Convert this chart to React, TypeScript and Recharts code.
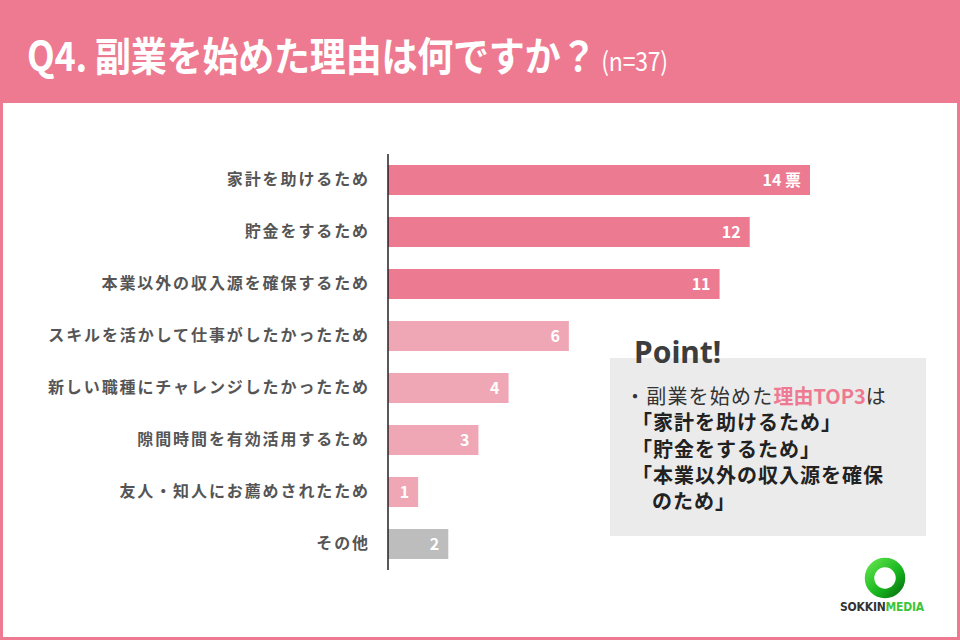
import { Bar, BarChart, Cell, LabelList, XAxis, YAxis } from "recharts";

const reasons = [
  "家計を助けるため",
  "貯金をするため",
  "本業以外の収入源を確保するため",
  "スキルを活かして仕事がしたかったため",
  "新しい職種にチャレンジしたかったため",
  "隙間時間を有効活用するため",
  "友人・知人にお薦めされたため",
  "その他",
];
const votes = [14, 12, 11, 6, 4, 3, 1, 2];
const barColors = ["#ec7a90", "#ec7a90", "#ec7a90", "#f0a7b5", "#f0a7b5", "#f0a7b5", "#f0a7b5", "#bdbdbd"];
const pointLines = ["「家計を助けるため」", "「貯金をするため」", "「本業以外の収入源を確保"];

const PINK = "#ee7a91";
const JP = '"Noto Sans CJK JP", "Noto Sans", sans-serif';

const data = reasons.map((name, i) => ({
  name,
  votes: votes[i],
  text: i === 0 ? `${votes[i]} 票` : String(votes[i]),
}));

function ReasonTick({ x, y, payload }: any) {
  return (
    <text
      x={x}
      y={y}
      dy={5}
      textAnchor="end"
      fill="#555"
      fontSize={16}
      fontWeight={700}
      letterSpacing={1.9}
      fontFamily={JP}
    >
      {payload.value}
    </text>
  );
}

function Logo() {
  return (
    <svg width={100} height={70} style={{ position: "absolute", left: 829, top: 552 }}>
      <defs>
        <linearGradient id="ring" x1="0" y1="0" x2="1" y2="1">
          <stop offset="0%" stopColor="#5be04a" />
          <stop offset="60%" stopColor="#17b51d" />
          <stop offset="100%" stopColor="#0a7a12" />
        </linearGradient>
      </defs>
      <circle cx={53} cy={26} r={15.5} fill="none" stroke="url(#ring)" strokeWidth={9.5} />
      <text x={8} y={59} fontSize={12} fontWeight={900} fontFamily='"Liberation Sans Narrow", "DejaVu Sans Condensed", sans-serif' letterSpacing={-0.2}>
        <tspan fill="#333">SOKKIN</tspan>
        <tspan fill="#3cc43a">MEDIA</tspan>
      </text>
    </svg>
  );
}

export default function App() {
  return (
    <div
      style={{
        position: "absolute",
        left: 0,
        top: 0,
        width: 960,
        height: 640,
        boxSizing: "border-box",
        background: "#fff",
        border: `3px solid ${PINK}`,
        borderTop: "none",
        fontFamily: JP,
        overflow: "hidden",
      }}
    >
      <div style={{ position: "absolute", left: -3, top: 0, width: 960, height: 103, background: PINK }} />
      <div
        style={{
          position: "absolute",
          left: 24,
          top: 33,
          color: "#fff",
          fontWeight: 700,
          fontSize: 36,
          lineHeight: "40px",
          whiteSpace: "nowrap",
          transform: "scaleY(1.12)",
          transformOrigin: "left center",
          letterSpacing: -0.2,
        }}
      >
        Q4. 副業を始めた理由は何ですか？
        <span style={{ fontSize: 23, fontWeight: 400, marginLeft: 5 }}>(n=37)</span>
      </div>

      <div style={{ position: "absolute", left: -3, top: 0 }}>
        <BarChart
          width={960}
          height={640}
          layout="vertical"
          data={data}
          margin={{ top: 154, right: 150, bottom: 70, left: 0 }}
          barCategoryGap={22}
        >
          <XAxis type="number" domain={[0, 14]} hide />
          <YAxis
            type="category"
            dataKey="name"
            width={388}
            tickSize={0}
            tickMargin={18}
            axisLine={{ stroke: "#222", strokeWidth: 1.5 }}
            tickLine={false}
            tick={<ReasonTick />}
            interval={0}
          />
          <Bar dataKey="votes" barSize={30} isAnimationActive={false}>
            {data.map((d, i) => (
              <Cell key={d.name} fill={barColors[i]} />
            ))}
            <LabelList
              dataKey="text"
              position="insideRight"
              offset={9}
              fill="#fff"
              fontSize={16}
              fontWeight={700}
              fontFamily={JP}
            />
          </Bar>
        </BarChart>
      </div>

      <div
        style={{
          position: "absolute",
          left: 607,
          top: 358,
          width: 316,
          height: 178,
          background: "#ebebeb",
        }}
      />
      <div
        style={{
          position: "absolute",
          left: 631,
          top: 334,
          fontFamily: '"Noto Sans", sans-serif',
          fontWeight: 700,
          fontSize: 30,
          lineHeight: "36px",
          color: "#3d3d3d",
        }}
      >
        Point!
      </div>
      <div
        style={{
          position: "absolute",
          left: 622,
          top: 383,
          fontSize: 20,
          lineHeight: "26.3px",
          color: "#222",
          whiteSpace: "nowrap",
          letterSpacing: 1,
        }}
      >
        <div style={{ fontWeight: 400, color: "#333", letterSpacing: 1.2 }}>
          ・副業を始めた<span style={{ color: PINK, fontWeight: 700, letterSpacing: 0 }}>理由TOP3</span>は
        </div>
        {pointLines.map((l) => (
          <div key={l} style={{ fontWeight: 700, marginLeft: 7 }}>
            {l}
          </div>
        ))}
        <div style={{ fontWeight: 700, marginLeft: 27 }}>のため」</div>
      </div>

      <Logo />
    </div>
  );
}
